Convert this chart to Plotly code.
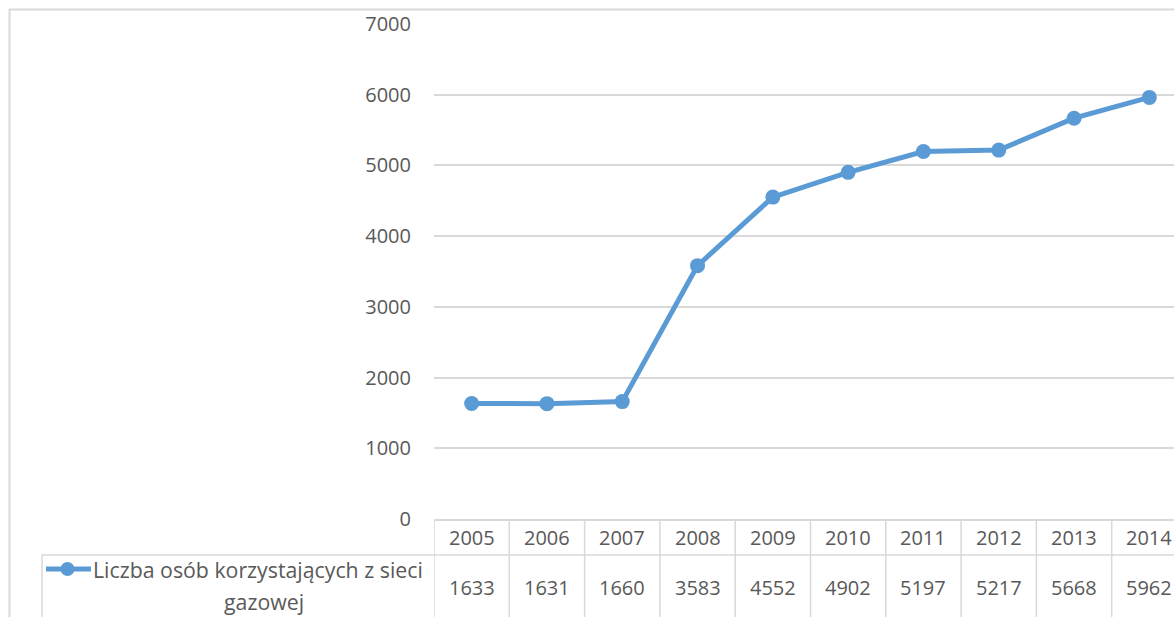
import plotly.graph_objects as go

years = ["2005", "2006", "2007", "2008", "2009", "2010", "2011", "2012", "2013", "2014"]
values = [1633, 1631, 1660, 3583, 4552, 4902, 5197, 5217, 5668, 5962]
series_name_line1 = "Liczba osób korzystających z sieci"
series_name_line2 = "gazowej"
y_ticks = [0, 1000, 2000, 3000, 4000, 5000, 6000, 7000]

W, H = 1174, 617
L, R, T, B = 434, 0, 24, 98
plot_w = W - L - R
plot_h = H - T - B

def px_to_paper_x(px):
    return (px - L) / plot_w

def px_to_paper_y(py):
    return (H - B - py) / plot_h

BLUE = "#5B9BD5"
GRID = "#D9D9D9"
TXT = "#595959"
FONT = "Open Sans"

idx = list(range(len(years)))
col_px = 75.3
x_max = -0.5 + plot_w / col_px

fig = go.Figure()
fig.add_trace(go.Scatter(
    x=idx, y=values, mode="lines+markers",
    line=dict(color=BLUE, width=5),
    marker=dict(color=BLUE, size=15),
    showlegend=False, cliponaxis=False, hoverinfo="skip",
))

shapes = []
annotations = []

# outer chart border
shapes.append(dict(type="line", xref="paper", yref="paper",
                   x0=px_to_paper_x(9), x1=px_to_paper_x(W + 5),
                   y0=px_to_paper_y(9.5), y1=px_to_paper_y(9.5),
                   line=dict(color=GRID, width=2)))
shapes.append(dict(type="line", xref="paper", yref="paper",
                   x0=px_to_paper_x(9.5), x1=px_to_paper_x(9.5),
                   y0=px_to_paper_y(9), y1=px_to_paper_y(H + 5),
                   line=dict(color=GRID, width=2)))

# data table
row_div = px_to_paper_y(555)
bottom = px_to_paper_y(H + 5)
shapes.append(dict(type="line", xref="paper", yref="paper",
                   x0=px_to_paper_x(42), x1=px_to_paper_x(W + 5),
                   y0=row_div, y1=row_div,
                   line=dict(color=GRID, width=1.5)))
shapes.append(dict(type="line", xref="paper", yref="paper",
                   x0=px_to_paper_x(42), x1=px_to_paper_x(42),
                   y0=row_div, y1=bottom,
                   line=dict(color=GRID, width=1.5)))
for k in range(len(years) + 1):
    shapes.append(dict(type="line", xref="x", yref="paper",
                       x0=k - 0.5, x1=k - 0.5, y0=0, y1=bottom,
                       line=dict(color=GRID, width=1.5)))

for i, (yr, v) in enumerate(zip(years, values)):
    annotations.append(dict(x=i, xref="x", y=px_to_paper_y(537), yref="paper",
                            text=yr, showarrow=False, xanchor="center", yanchor="middle",
                            font=dict(family=FONT, size=20, color=TXT)))
    annotations.append(dict(x=i, xref="x", y=px_to_paper_y(587), yref="paper",
                            text=str(v), showarrow=False, xanchor="center", yanchor="middle",
                            font=dict(family=FONT, size=20, color=TXT)))

# legend key in table
annotations.append(dict(x=px_to_paper_x(258), xref="paper", y=px_to_paper_y(569), yref="paper",
                        text=series_name_line1, showarrow=False, xanchor="center", yanchor="middle",
                        borderpad=0,
                        font=dict(family=FONT, size=21.3, color=TXT)))
annotations.append(dict(x=px_to_paper_x(264), xref="paper", y=px_to_paper_y(601), yref="paper",
                        text=series_name_line2, showarrow=False, xanchor="center", yanchor="middle",
                        borderpad=0,
                        font=dict(family=FONT, size=21.3, color=TXT)))
shapes.append(dict(type="line", xref="paper", yref="paper",
                   x0=px_to_paper_x(46), x1=px_to_paper_x(91),
                   y0=px_to_paper_y(569), y1=px_to_paper_y(569),
                   line=dict(color=BLUE, width=5)))
shapes.append(dict(type="circle", xref="paper", yref="paper",
                   x0=px_to_paper_x(60.5), x1=px_to_paper_x(74.5),
                   y0=px_to_paper_y(576), y1=px_to_paper_y(562),
                   fillcolor=BLUE, line=dict(color=BLUE, width=0)))

fig.update_layout(
    width=W, height=H,
    margin=dict(l=L, r=R, t=T, b=B, pad=0),
    paper_bgcolor="white", plot_bgcolor="white",
    shapes=shapes, annotations=annotations,
    xaxis=dict(range=[-0.5, x_max], showgrid=False, zeroline=False,
               showticklabels=False, ticks="", showline=True,
               linecolor=GRID, linewidth=1.5, fixedrange=True),
    yaxis=dict(range=[0, 7000], tickvals=y_ticks, showgrid=True, gridcolor=GRID,
               gridwidth=1.5, zeroline=False, showline=False, ticks="",
               ticklabelstandoff=22,
               tickfont=dict(family=FONT, size=20, color=TXT), fixedrange=True),
)

fig.write_html("out.html", config={"displayModeBar": False},
               post_script="document.body.style.margin='0';document.body.style.overflow='hidden';")
